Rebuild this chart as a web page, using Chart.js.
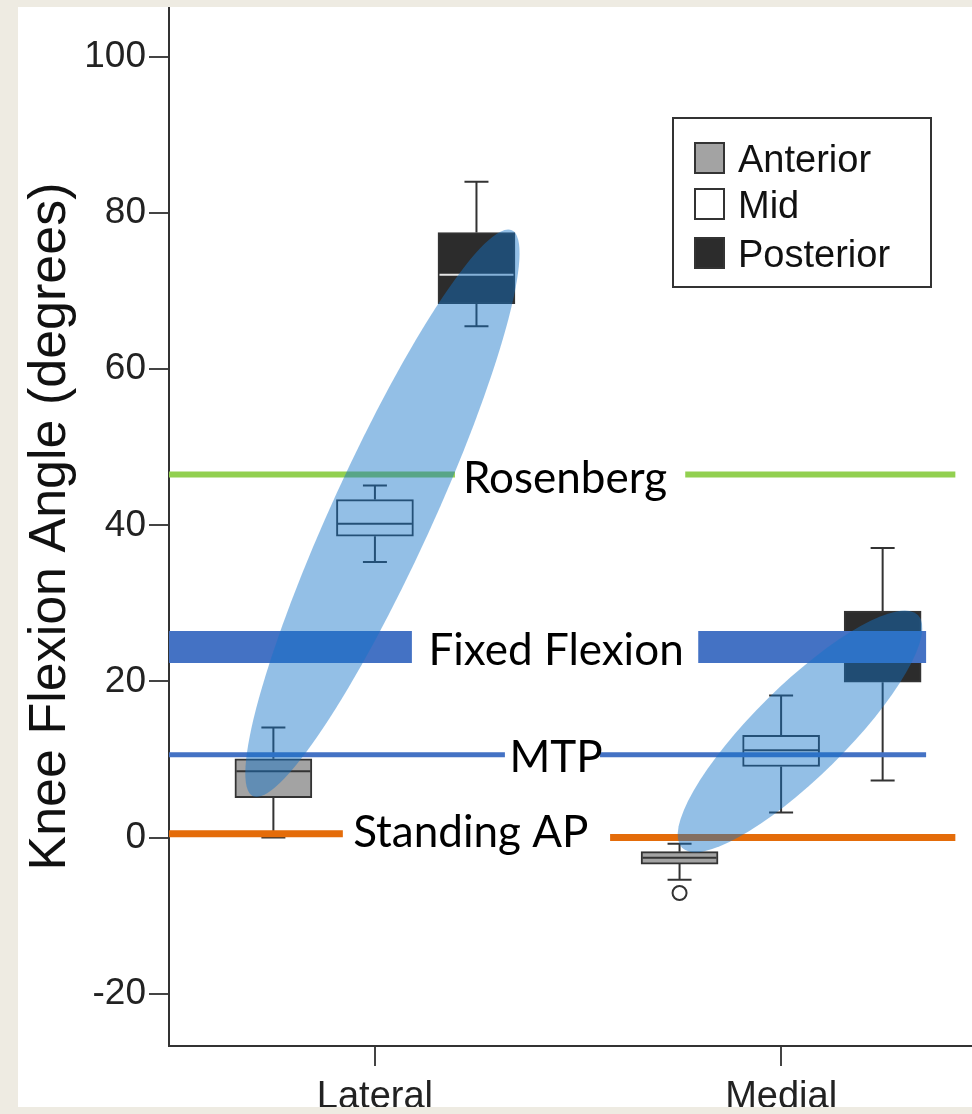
<!DOCTYPE html>
<html><head><meta charset="utf-8">
<script src="https://cdn.jsdelivr.net/npm/chart.js@4.4.1/dist/chart.umd.min.js"></script>
<style>
html,body{margin:0;padding:0;background:#EEEBE2;width:972px;height:1114px;overflow:hidden}
#wrap{position:absolute;left:18px;top:7px;width:954px;height:1100px;background:#fff}
canvas{display:block}
</style></head><body>
<div id="wrap"><canvas id="c" width="954" height="1100"></canvas></div>
<script>
// ---------- data ----------
const categories = ['Lateral', 'Medial'];
const categoryPositions = [1, 2];
const seriesNames = ['Anterior', 'Mid', 'Posterior'];
const seriesOffsets = [-0.25, 0, 0.25];
// five-number summaries [min, q1, median, q3, max], one per category
const anteriorStats  = [[0.0, 5.1, 8.5, 10.1, 14.1], [-5.4, -3.4, -2.6, -1.8, -0.8]];
const midStats       = [[35.3, 38.6, 40.2, 43.3, 45.1], [3.2, 9.1, 11.2, 13.1, 18.2]];
const posteriorStats = [[65.5, 68.4, 72.1, 77.5, 84.0], [7.3, 19.9, 25.0, 29.0, 37.1]];
const anteriorOutliers  = [[], [-7.1]];
const midOutliers       = [[], []];
const posteriorOutliers = [[], []];
const yTickValues = [-20, 0, 20, 40, 60, 80, 100];
// reference lines: segments [xStart, xEnd, value] in data units
const rosenbergSegments    = [[0.493, 1.197, 46.5], [1.764, 2.429, 46.5]];
const fixedFlexionSegments = [[0.493, 1.091, 24.4], [1.796, 2.357, 24.4]];
const mtpSegments          = [[0.493, 1.320, 10.6], [1.554, 2.357, 10.6]];
const standingApSegments   = [[0.493, 0.921, 0.5], [1.579, 2.429, 0.0]];
const refLabels = ['Rosenberg', 'Fixed Flexion', 'MTP', 'Standing AP'];
const refLabelAnchors = [[1.468, 46.2], [1.446, 24.1], [1.446, 10.4], [1.236, 0.8]];
// highlighted ellipses: two end points [x, y] in data units
const lateralEllipse = [[0.700, 5.3], [1.337, 77.8]];
const medialEllipse  = [[1.756, -1.3], [2.337, 28.5]];

// ---------- styles ----------
const statsBySeries = [anteriorStats, midStats, posteriorStats];
const outliersBySeries = [anteriorOutliers, midOutliers, posteriorOutliers];
const seriesFill = ['#a3a3a3', '#ffffff', '#2c2c2c'];
const seriesMedian = ['#333333', '#333333', '#e6e6e6'];
const refColors = ['#92D050', '#4472C4', '#4472C4', '#E46C0A'];
const refWidths = [6, 32, 5, 7];
const refSegs = [rosenbergSegments, fixedFlexionSegments, mtpSegments, standingApSegments];
const ellipseSemiMinor = [50, 46];
const ellipseFill = 'rgba(20,115,200,0.46)';
const sansFont = "'Liberation Sans', Arial, sans-serif";
const labelFont = "Lato, 'Open Sans', sans-serif";

function segData(segs) {
  const out = [];
  segs.forEach(([a, b, v], k) => {
    if (k) out.push({ x: (a + segs[k - 1][1]) / 2, y: null });
    out.push({ x: a, y: v }, { x: b, y: v });
  });
  return out;
}

const barDatasets = seriesNames.map((name, s) => ({
  type: 'bar',
  label: name,
  data: categoryPositions.map((c, i) => ({ x: c + seriesOffsets[s], y: [statsBySeries[s][i][1], statsBySeries[s][i][3]] })),
  backgroundColor: seriesFill[s],
  borderColor: '#333',
  borderWidth: 2,
  borderSkipped: false,
  barThickness: 77,
  grouped: false,
  order: 10
}));

const lineDatasets = refLabels.map((name, r) => ({
  type: 'line',
  label: name,
  data: segData(refSegs[r]),
  borderColor: refColors[r],
  borderWidth: refWidths[r],
  borderCapStyle: 'butt',
  pointRadius: 0,
  spanGaps: false,
  tension: 0,
  order: 1
}));

function capY(cy, size, ratio) { return cy + size * ratio / 2; }

const extras = {
  id: 'extras',
  beforeDatasetsDraw(chart) {
    const { ctx, scales: { x, y } } = chart;
    ctx.save();
    ctx.strokeStyle = '#333'; ctx.lineWidth = 2;
    statsBySeries.forEach((stats, s) => stats.forEach((st, i) => {
      const cx = x.getPixelForValue(categoryPositions[i] + seriesOffsets[s]);
      const [mn, q1, md, q3, mx] = st.map(v => y.getPixelForValue(v));
      ctx.beginPath();
      ctx.moveTo(cx, mn); ctx.lineTo(cx, q1);
      ctx.moveTo(cx, q3); ctx.lineTo(cx, mx);
      ctx.moveTo(cx - 12, mn); ctx.lineTo(cx + 12, mn);
      ctx.moveTo(cx - 12, mx); ctx.lineTo(cx + 12, mx);
      ctx.stroke();
    }));
    ctx.restore();
  },
  afterDatasetDraw(chart, args) {
    const s = args.index;
    if (s > 2) return;
    const { ctx, scales: { x, y } } = chart;
    ctx.save();
    statsBySeries[s].forEach((st, i) => {
      const cx = x.getPixelForValue(categoryPositions[i] + seriesOffsets[s]);
      const md = y.getPixelForValue(st[2]);
      ctx.strokeStyle = seriesMedian[s]; ctx.lineWidth = 2;
      ctx.beginPath(); ctx.moveTo(cx - 37, md); ctx.lineTo(cx + 37, md); ctx.stroke();
      ctx.strokeStyle = '#333';
      outliersBySeries[s][i].forEach(v => {
        ctx.beginPath(); ctx.arc(cx, y.getPixelForValue(v), 7, 0, Math.PI * 2); ctx.stroke();
      });
    });
    ctx.restore();
  },
  afterDatasetsDraw(chart) {
    const { ctx, scales: { x, y } } = chart;
    ctx.save();
    // ellipses
    [lateralEllipse, medialEllipse].forEach((e, k) => {
      const x1 = x.getPixelForValue(e[0][0]), y1 = y.getPixelForValue(e[0][1]);
      const x2 = x.getPixelForValue(e[1][0]), y2 = y.getPixelForValue(e[1][1]);
      const a = Math.hypot(x2 - x1, y2 - y1) / 2;
      ctx.fillStyle = ellipseFill;
      ctx.beginPath();
      ctx.ellipse((x1 + x2) / 2, (y1 + y2) / 2, a, ellipseSemiMinor[k], Math.atan2(y2 - y1, x2 - x1), 0, Math.PI * 2);
      ctx.fill();
    });
    // reference line labels
    ctx.fillStyle = '#000';
    ctx.textAlign = 'center';
    ctx.textBaseline = 'alphabetic';
    ctx.font = '44px ' + labelFont;
    refLabels.forEach((t, r) => {
      const px = x.getPixelForValue(refLabelAnchors[r][0]);
      const py = y.getPixelForValue(refLabelAnchors[r][1]);
      ctx.fillText(t, px, capY(py, 44, 0.72));
    });
    // legend
    ctx.strokeStyle = '#333'; ctx.lineWidth = 2;
    ctx.strokeRect(655, 111, 258, 169);
    const rowY = [151, 197, 246];
    ctx.textAlign = 'left';
    ctx.font = '38px ' + sansFont;
    seriesNames.forEach((n, s) => {
      ctx.fillStyle = seriesFill[s];
      ctx.fillRect(677, rowY[s] - 15, 29, 30);
      ctx.strokeRect(677, rowY[s] - 15, 29, 30);
      ctx.fillStyle = '#111';
      ctx.fillText(n, 720, capY(rowY[s], 38, 0.716));
    });
    ctx.restore();
  }
};

function noPad(s) { s.paddingTop = 0; s.paddingBottom = 0; s.paddingLeft = 0; s.paddingRight = 0; }

new Chart(document.getElementById('c'), {
  type: 'bar',
  data: { datasets: [...barDatasets, ...lineDatasets] },
  options: {
    responsive: false,
    animation: false,
    layout: { padding: 0 },
    plugins: { legend: { display: false }, tooltip: { enabled: false } },
    scales: {
      x: {
        type: 'linear', min: 0.493, max: 2.47, offset: false,
        afterFit(s) { s.height = 61; noPad(s); },
        afterBuildTicks(s) { s.ticks = categoryPositions.map(v => ({ value: v })); },
        ticks: {
          callback: (v, i) => categories[i],
          font: { family: sansFont, size: 38 }, color: '#222', padding: 9,
          maxRotation: 0, autoSkip: false
        },
        grid: { offset: false, drawOnChartArea: false, drawTicks: true, tickLength: 20, color: '#444', lineWidth: 2 },
        border: { display: true, color: '#333', width: 2 }
      },
      y: {
        type: 'linear', min: -26.7, max: 106.4,
        afterFit(s) { s.width = 151; noPad(s); },
        afterBuildTicks(s) { s.ticks = yTickValues.map(v => ({ value: v })); },
        ticks: { font: { family: sansFont, size: 37 }, color: '#222', padding: 3 },
        grid: { drawOnChartArea: false, drawTicks: true, tickLength: 20, color: '#444', lineWidth: 2 },
        border: { display: true, color: '#333', width: 2 },
        title: {
          display: true, text: 'Knee Flexion Angle (degrees)',
          font: { family: sansFont, size: 52 }, color: '#111', padding: { top: 1, bottom: 0 }
        }
      }
    }
  },
  plugins: [extras]
});
</script>
</body></html>
